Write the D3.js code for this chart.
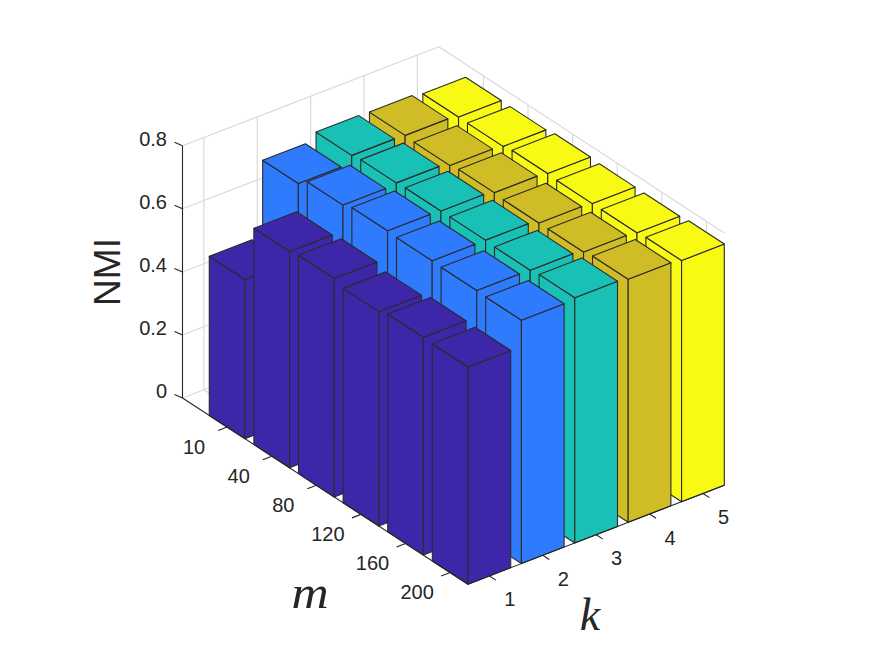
<!DOCTYPE html>
<html>
<head>
<meta charset="utf-8">
<script src="https://cdnjs.cloudflare.com/ajax/libs/d3/7.8.5/d3.min.js"></script>
<style>
html,body{margin:0;padding:0;background:#fff;}
svg{display:block;}
text{font-family:"Liberation Sans",Arial,sans-serif;fill:#262626;}
</style>
</head>
<body>
<div id="chart"></div>
<script>
const mLabels = ["10","40","80","120","160","200"];
const kLabels = ["1","2","3","4","5"];
const zTicks = [0,0.2,0.4,0.6,0.8];
const nmiK1 = [0.505,0.686,0.693,0.680,0.691,0.689];
const nmiK2 = [0.744,0.768,0.779,0.776,0.774,0.772];
const nmiK3 = [0.768,0.773,0.776,0.776,0.773,0.778];
const nmiK4 = [0.766,0.763,0.769,0.765,0.765,0.771];
const nmiK5 = [0.759,0.758,0.764,0.761,0.761,0.765];
const series = [nmiK1,nmiK2,nmiK3,nmiK4,nmiK5];
const colors = ["#3d26a8","#2f7bfe","#18c0b5","#d0bd25","#f9fa14"];

const W = 875, H = 656;
const svg = d3.select("#chart").append("svg").attr("width",W).attr("height",H);

// oblique projection, expressed through three pairs of linear scales
const origin = {x:182.5, y:398};
const kX = d3.scaleLinear().domain([0.6,5.4]).range([0,256.3]);
const kY = d3.scaleLinear().domain([0.6,5.4]).range([0,-99]);
const mX = d3.scaleLinear().domain([0,6.4]).range([0,285.5]);
const mY = d3.scaleLinear().domain([0,6.4]).range([0,186.2]);
const zY = d3.scaleLinear().domain([0,0.8]).range([0,-252.2]);
const P = (k,m,z) => [origin.x+kX(k)+mX(m), origin.y+kY(k)+mY(m)+zY(z)];
const line = d3.line();
const kMin=0.6,kMax=5.4,mMin=0,mMax=6.4,zMax=0.8;
const mIdx = mLabels.map((_,i)=>i+1), kIdx = kLabels.map((_,i)=>i+1);

// grid
const grid = [];
zTicks.forEach(z=>{ grid.push([P(kMin,mMin,z),P(kMax,mMin,z)]); grid.push([P(kMax,mMin,z),P(kMax,mMax,z)]); });
kIdx.forEach(k=>{ grid.push([P(k,mMin,0),P(k,mMin,zMax)]); grid.push([P(k,mMin,0),P(k,mMax,0)]); });
mIdx.forEach(m=>{ grid.push([P(kMax,m,0),P(kMax,m,zMax)]); grid.push([P(kMin,m,0),P(kMax,m,0)]); });
svg.append("g").selectAll("path").data(grid).join("path")
  .attr("d",line).attr("fill","none").attr("stroke","#d8d8d8").attr("stroke-width",1.1);

// bars, painted back to front
const barData = [];
for(let j=kIdx.length-1;j>=0;j--){
  for(let i=0;i<mIdx.length;i++){
    barData.push({k:kIdx[j],m:mIdx[i],z:series[j][i],c:colors[j]});
  }
}
const edge="#2b2b2b";
const bars = svg.append("g").selectAll("g").data(barData).join("g")
  .attr("stroke",edge).attr("stroke-width",1.1).attr("stroke-linejoin","round").attr("fill",d=>d.c);
const hw=0.4;
bars.append("path").attr("d",d=>line([P(d.k-hw,d.m-hw,0),P(d.k-hw,d.m+hw,0),P(d.k-hw,d.m+hw,d.z),P(d.k-hw,d.m-hw,d.z)])+"Z");
bars.append("path").attr("d",d=>line([P(d.k-hw,d.m+hw,0),P(d.k+hw,d.m+hw,0),P(d.k+hw,d.m+hw,d.z),P(d.k-hw,d.m+hw,d.z)])+"Z");
bars.append("path").attr("d",d=>line([P(d.k-hw,d.m-hw,d.z),P(d.k-hw,d.m+hw,d.z),P(d.k+hw,d.m+hw,d.z),P(d.k+hw,d.m-hw,d.z)])+"Z");

// axes
const axisColor="#262626";
const ax = svg.append("g").attr("stroke",axisColor).attr("stroke-width",1.1).attr("fill","none");
ax.append("path").attr("d",line([P(kMin,mMin,0),P(kMin,mMin,zMax)]));
ax.append("path").attr("d",line([P(kMin,mMin,0),P(kMin,mMax,0)]));
ax.append("path").attr("d",line([P(kMin,mMax,0),P(kMax,mMax,0)]));
ax.selectAll(".zt").data(zTicks).join("path").attr("d",z=>{const p=P(kMin,mMin,z);return line([p,[p[0]-8,p[1]-3.5]]);});
ax.selectAll(".mt").data(mIdx).join("path").attr("d",m=>{const p=P(kMin,m,0);return line([p,[p[0]-9,p[1]+3.5]]);});
ax.selectAll(".kt").data(kIdx).join("path").attr("d",k=>{const p=P(k,mMax,0);return line([p,[p[0]+6.5,p[1]+4.2]]);});

// tick labels
const fs=20;
svg.append("g").selectAll("text").data(zTicks).join("text")
  .attr("x",167).attr("y",z=>P(kMin,mMin,z)[1]-7).attr("dy","0.35em")
  .attr("text-anchor","end").attr("font-size",fs).text(z=>z===0?"0":z.toFixed(1));
svg.append("g").selectAll("text").data(mIdx).join("text")
  .attr("x",m=>P(kMin,m,0)[0]-33).attr("y",m=>P(kMin,m,0)[1]+19.7).attr("dy","0.35em")
  .attr("text-anchor","middle").attr("font-size",fs).text(m=>mLabels[m-1]);
svg.append("g").selectAll("text").data(kIdx).join("text")
  .attr("x",k=>P(k,mMax,0)[0]+20.5).attr("y",k=>P(k,mMax,0)[1]+23.5).attr("dy","0.35em")
  .attr("text-anchor","middle").attr("font-size",fs).text(k=>kLabels[k-1]);

// axis titles
svg.append("text").attr("transform","translate(120,272) rotate(-90)")
  .attr("text-anchor","middle").attr("font-size",37).text("NMI");
svg.append("text").attr("transform","translate(310,608) scale(1.12,1)").attr("text-anchor","middle")
  .attr("font-size",46).style("font-family","'Liberation Serif',serif").attr("font-style","italic").text("m");
svg.append("text").attr("x",590).attr("y",630).attr("text-anchor","middle")
  .attr("font-size",46).style("font-family","'Liberation Serif',serif").attr("font-style","italic").text("k");
</script>
</body>
</html>
